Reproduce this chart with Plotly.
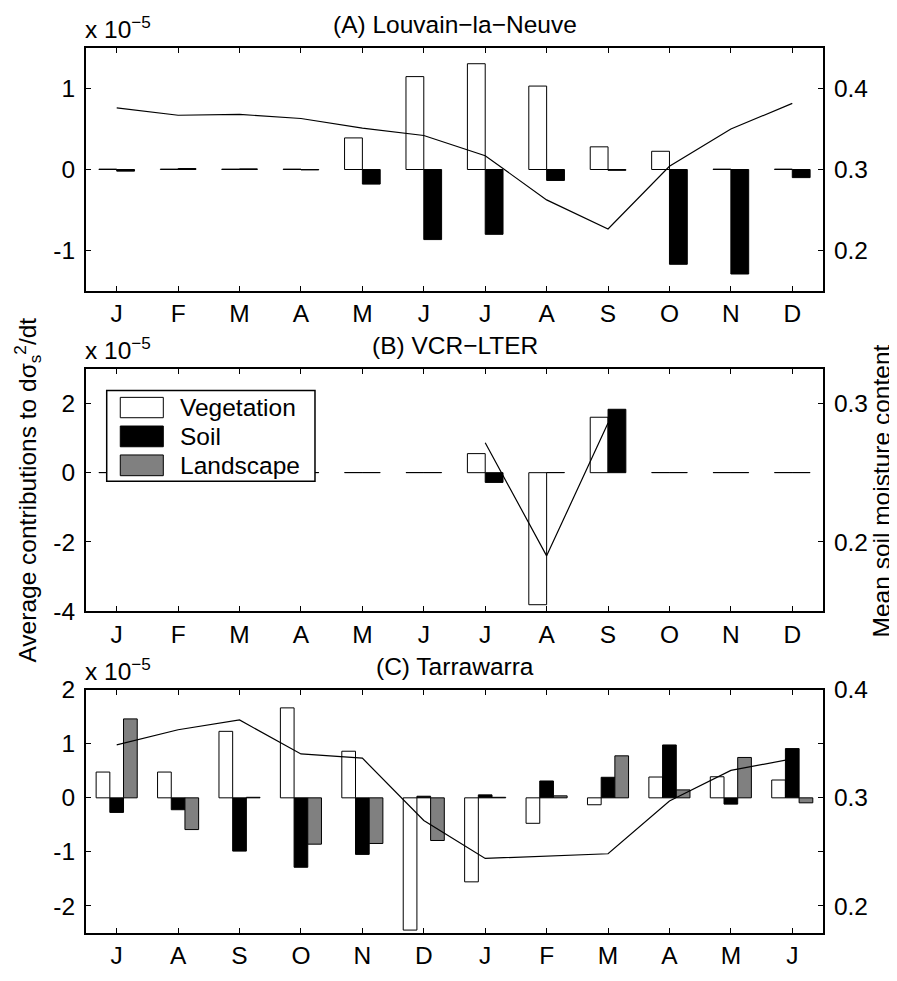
import plotly.graph_objects as go

# ---------------- data (units: 1e-5 for contributions) ----------------
months_A = ['J', 'F', 'M', 'A', 'M', 'J', 'J', 'A', 'S', 'O', 'N', 'D']
months_C = ['J', 'A', 'S', 'O', 'N', 'D', 'J', 'F', 'M', 'A', 'M', 'J']
xpos = list(range(1, 13))

# (A) Louvain-la-Neuve
veg_A = [0.005, 0.005, 0.005, 0.005, 0.39, 1.147, 1.306, 1.03, 0.28, 0.225, 0.005, 0.005]
soil_A = [-0.02, 0.012, 0.008, -0.005, -0.18, -0.865, -0.80, -0.135, -0.01, -1.17, -1.29, -0.10]
sm_A = [0.376, 0.367, 0.368, 0.363, 0.351, 0.342, 0.317, 0.2625, 0.2266, 0.304, 0.350, 0.3816]

# (B) VCR-LTER
veg_B = [0.005, 0.005, 0.005, 0.005, 0.005, 0.005, 0.55, -3.81, 1.60, 0.005, 0.005, 0.005]
soil_B = [0.005, 0.005, 0.005, 0.005, 0.005, 0.005, -0.28, 0.005, 1.83, 0.005, 0.005, 0.005]
sm_B = [None, None, None, None, None, None, 0.2716, 0.190, 0.2858, None, None, None]

# (C) Tarrawarra
veg_C = [0.477, 0.477, 1.23, 1.664, 0.862, -2.446, -1.554, -0.471, -0.128, 0.385, 0.39, 0.33]
soil_C = [-0.27, -0.22, -0.985, -1.284, -1.046, 0.03, 0.055, 0.312, 0.38, 0.978, -0.116, 0.911]
land_C = [1.46, -0.587, 0.01, -0.857, -0.844, -0.789, 0.01, 0.037, 0.777, 0.147, 0.747, -0.092]
sm_C = [0.349, 0.363, 0.372, 0.3406, 0.3367, 0.279, 0.244, 0.2459, 0.2483, 0.297, 0.3254, 0.336]

series_names = ['Vegetation', 'Soil', 'Landscape']
series_colors = ['white', 'black', '#808080']

yticks_A = [-1, 0, 1]
yticks_B = [-4, -2, 0, 2]
yticks_C = [-2, -1, 0, 1, 2]
rticks_A = [0.2, 0.3, 0.4]
rticks_B = [0.2, 0.3]
rticks_C = [0.2, 0.25, 0.3, 0.35, 0.4]
rtext_C = ['0.2', ' ', '0.3', ' ', '0.4']

FONT = 'Liberation Sans'
FS = 24.5

fig = go.Figure()


def add_bars(vals, idx, xa, ya, width, offset):
    fig.add_trace(go.Bar(
        x=xpos, y=vals, xaxis=xa, yaxis=ya, width=width, offset=offset,
        marker=dict(color=series_colors[idx], line=dict(color='black', width=1)),
        name=series_names[idx], showlegend=False))


def add_line(vals, xa, ya):
    fig.add_trace(go.Scatter(
        x=xpos, y=vals, xaxis=xa, yaxis=ya, mode='lines',
        line=dict(color='black', width=1.2), showlegend=False, connectgaps=False))


# Panel A
add_bars(veg_A, 0, 'x', 'y', 0.29, -0.29)
add_bars(soil_A, 1, 'x', 'y', 0.29, 0.0)
add_line(sm_A, 'x', 'y2')
# Panel B
add_bars(veg_B, 0, 'x2', 'y3', 0.29, -0.29)
add_bars(soil_B, 1, 'x2', 'y3', 0.29, 0.0)
add_line(sm_B, 'x2', 'y4')
# Panel C
add_bars(veg_C, 0, 'x3', 'y5', 0.223, -0.335)
add_bars(soil_C, 1, 'x3', 'y5', 0.223, -0.112)
add_bars(land_C, 2, 'x3', 'y5', 0.223, 0.111)
add_line(sm_C, 'x3', 'y6')

dom_A = [0.7254, 1.0]
dom_B = [0.3635, 0.6376]
dom_C = [0.0, 0.2749]

axis_common = dict(showline=True, linecolor='black', linewidth=2, ticks='inside',
                   ticklen=5, tickwidth=1, tickcolor='black', showgrid=False,
                   zeroline=False, tickfont=dict(family=FONT, size=FS, color='black'))


def xax(anchor, labels):
    d = dict(axis_common)
    d.update(anchor=anchor, domain=[0, 1], range=[0.5, 12.5], tickmode='array',
             tickvals=xpos, ticktext=labels, mirror='ticks', ticklabelstandoff=0)
    return d


def yax(anchor, dom, rng, tv):
    d = dict(axis_common)
    d.update(anchor=anchor, domain=dom, range=rng, tickmode='array', tickvals=tv,
             ticktext=[str(v) for v in tv], mirror=True, ticklabelstandoff=4)
    return d


def rax(anchor, over, rng, tv, tt=None):
    d = dict(axis_common)
    d.update(anchor=anchor, overlaying=over, side='right', range=rng, tickmode='array',
             tickvals=tv, ticktext=tt if tt else [str(v) for v in tv], ticklabelstandoff=4)
    return d


fig.update_layout(
    width=889, height=973,
    margin=dict(l=78, r=74, t=40, b=37),
    paper_bgcolor='white', plot_bgcolor='white',
    barmode='overlay',
    font=dict(family=FONT, size=FS, color='black'),
    showlegend=False,
    xaxis=xax('y', months_A),
    yaxis=yax('x', dom_A, [-1.5, 1.5], yticks_A),
    yaxis2=rax('x', 'y', [0.15, 0.45], rticks_A),
    xaxis2=xax('y3', months_A),
    yaxis3=yax('x2', dom_B, [-4, 3], yticks_B),
    yaxis4=rax('x2', 'y3', [0.15, 0.325], rticks_B),
    xaxis3=xax('y5', months_C),
    yaxis5=yax('x3', dom_C, [-2.5, 2], yticks_C),
    yaxis6=rax('x3', 'y5', [0.175, 0.4], rticks_C, rtext_C),
)

annots = []
titles = ['(A) Louvain\u2212la\u2212Neuve', '(B) VCR\u2212LTER', '(C) Tarrawarra']
for t, (xr, yr) in zip(titles, [('x', 'y'), ('x2', 'y3'), ('x3', 'y5')]):
    annots.append(dict(text=t, xref=xr + ' domain', yref=yr + ' domain', x=0.5, y=1,
                       xanchor='center', yanchor='bottom', yshift=8, showarrow=False,
                       font=dict(family=FONT, size=FS, color='black')))
    annots.append(dict(text='x 10<sup>\u22125</sup>', xref=xr + ' domain', yref=yr + ' domain',
                       x=0, y=1, xanchor='left', yanchor='bottom', yshift=3, xshift=-3,
                       showarrow=False, font=dict(family=FONT, size=FS, color='black')))

annots.append(dict(text='Average contributions to d\u03c3<sub>s</sub><sup>2</sup>/dt',
                   xref='paper', yref='paper', x=-0.080, y=0.5, textangle=-90,
                   xanchor='center', yanchor='middle', showarrow=False,
                   font=dict(family=FONT, size=FS, color='black')))
annots.append(dict(text='Mean soil moisture content',
                   xref='paper', yref='paper', x=1.080, y=0.5, textangle=-90,
                   xanchor='center', yanchor='middle', showarrow=False,
                   font=dict(family=FONT, size=FS, color='black')))

# Legend (panel B)
shapes = [dict(type='rect', xref='x2 domain', yref='y3 domain', x0=0.0281, x1=0.3107,
               y0=0.5358, y1=0.9104, line=dict(color='black', width=1.5), fillcolor='white',
               layer='above')]
patch_y = [(0.798, 0.8819), (0.6783, 0.7638), (0.559, 0.6445)]
for i, (y0, y1) in enumerate(patch_y):
    shapes.append(dict(type='rect', xref='x2 domain', yref='y3 domain', x0=0.0465, x1=0.1049,
                       y0=y0, y1=y1, line=dict(color='black', width=1),
                       fillcolor=series_colors[i], layer='above'))
    annots.append(dict(text=series_names[i], xref='x2 domain', yref='y3 domain',
                       x=0.1253, y=(y0 + y1) / 2, xanchor='left', yanchor='middle',
                       showarrow=False, font=dict(family=FONT, size=FS, color='black')))

fig.update_layout(annotations=annots, shapes=shapes)
fig.write_html('out.html')
